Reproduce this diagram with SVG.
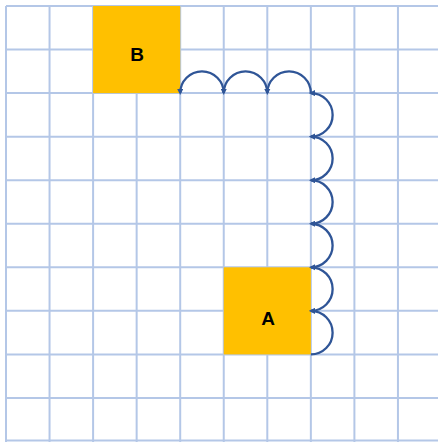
<svg xmlns="http://www.w3.org/2000/svg" width="438" height="442" viewBox="0 0 438 442">
<style>
.grid line{stroke:#B4C7E7;stroke-width:2}
.box{fill:#FFC000}
.lbl{font-family:"Liberation Sans",Arial,sans-serif;font-weight:bold;font-size:19px;fill:#000;text-anchor:middle}
.arc{fill:none;stroke:#2F5597;stroke-width:2.3;marker-end:url(#ah)}
</style>
<defs>
<marker id="ah" viewBox="0 0 10 10" refX="7" refY="5" markerWidth="2.8" markerHeight="2.8" orient="auto" markerUnits="strokeWidth">
<path d="M0,0 L10,5 L0,10 z" fill="#2F5597"/>
</marker>
</defs>
<rect width="438" height="442" fill="#fff"/>
<g class="grid" id="grid">
<line x1="6" y1="6" x2="6" y2="442"/>
<line x1="49.55" y1="6" x2="49.55" y2="442"/>
<line x1="93.1" y1="6" x2="93.1" y2="442"/>
<line x1="136.65" y1="6" x2="136.65" y2="442"/>
<line x1="180.2" y1="6" x2="180.2" y2="442"/>
<line x1="223.75" y1="6" x2="223.75" y2="442"/>
<line x1="267.3" y1="6" x2="267.3" y2="442"/>
<line x1="310.85" y1="6" x2="310.85" y2="442"/>
<line x1="354.4" y1="6" x2="354.4" y2="442"/>
<line x1="397.95" y1="6" x2="397.95" y2="442"/>
<line x1="6" y1="6" x2="438" y2="6"/>
<line x1="6" y1="49.55" x2="438" y2="49.55"/>
<line x1="6" y1="93.1" x2="438" y2="93.1"/>
<line x1="6" y1="136.65" x2="438" y2="136.65"/>
<line x1="6" y1="180.2" x2="438" y2="180.2"/>
<line x1="6" y1="223.75" x2="438" y2="223.75"/>
<line x1="6" y1="267.3" x2="438" y2="267.3"/>
<line x1="6" y1="310.85" x2="438" y2="310.85"/>
<line x1="6" y1="354.4" x2="438" y2="354.4"/>
<line x1="6" y1="397.95" x2="438" y2="397.95"/>
<line x1="6" y1="440.5" x2="438" y2="440.5"/>
</g>
<g id="nodeB">
<rect class="box" x="93.1" y="6" width="87.1" height="87.1"/>
<text class="lbl" x="137" y="61">B</text>
</g>
<g id="nodeA">
<rect class="box" x="223.75" y="267.3" width="87.1" height="87.1"/>
<text class="lbl" x="268" y="325">A</text>
</g>
<g id="connectors">
<path class="arc" d="M310.85,354.4 A21.775,21.775 0 0 0 310.85,310.85"/>
<path class="arc" d="M310.85,310.85 A21.775,21.775 0 0 0 310.85,267.3"/>
<path class="arc" d="M310.85,267.3 A21.775,21.775 0 0 0 310.85,223.75"/>
<path class="arc" d="M310.85,223.75 A21.775,21.775 0 0 0 310.85,180.2"/>
<path class="arc" d="M310.85,180.2 A21.775,21.775 0 0 0 310.85,136.65"/>
<path class="arc" d="M310.85,136.65 A21.775,21.775 0 0 0 310.85,93.1"/>
<path class="arc" d="M310.85,93.1 A21.775,21.775 0 0 0 267.3,93.1"/>
<path class="arc" d="M267.3,93.1 A21.775,21.775 0 0 0 223.75,93.1"/>
<path class="arc" d="M223.75,93.1 A21.775,21.775 0 0 0 180.2,93.1"/>
</g>
</svg>
